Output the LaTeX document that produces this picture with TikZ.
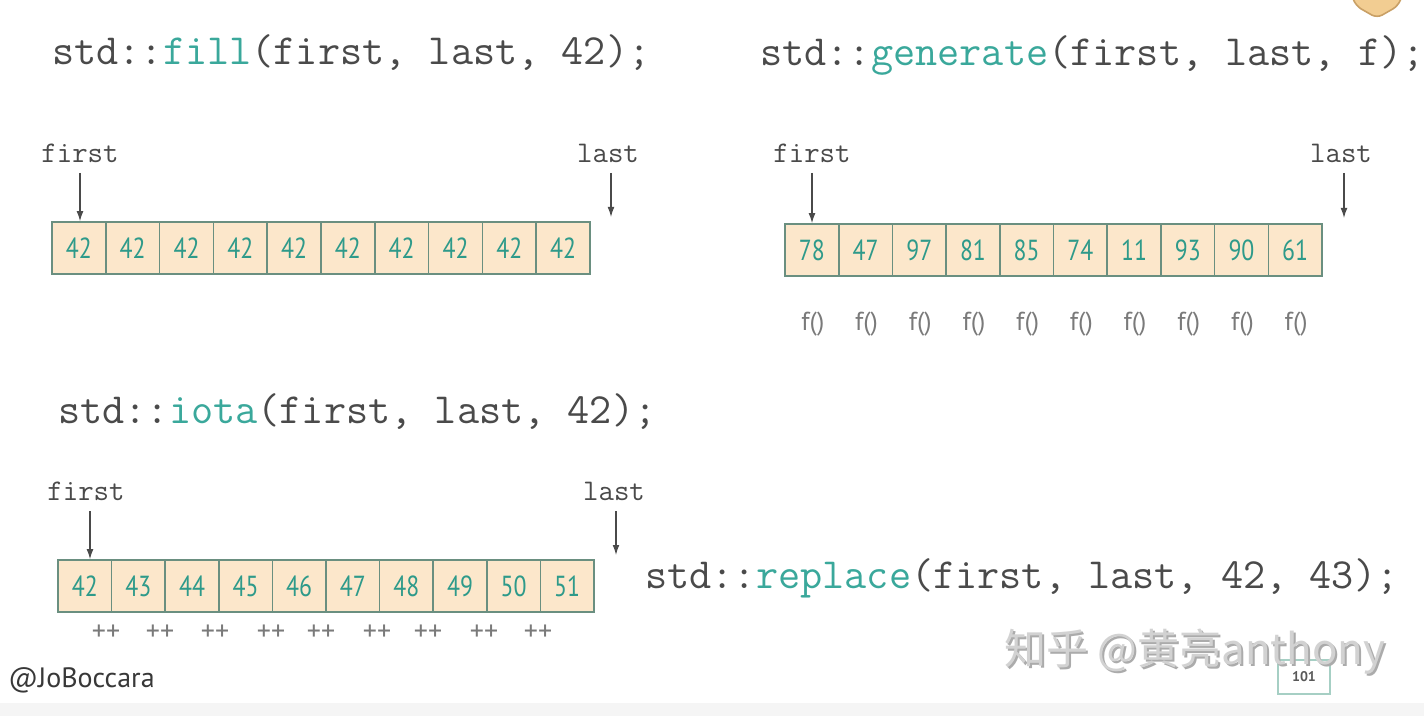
\documentclass[tikz,border=0pt]{standalone}
\usepackage{fontspec}
\setmainfont{PT Sans}
\newfontfamily\numfont[FakeStretch=0.82]{PT Sans}
\newfontfamily\cjkfont{Noto Sans CJK SC}
\usetikzlibrary{arrows.meta}

\definecolor{codegray}{HTML}{4A4A4A}
\definecolor{fnteal}{HTML}{3AA89B}
\definecolor{numteal}{HTML}{2E9A8A}
\definecolor{cellfill}{HTML}{FCE7CB}
\definecolor{cellline}{HTML}{6A8F80}
\definecolor{ptrgray}{HTML}{4A4A4A}
\definecolor{softgray}{HTML}{7A7A7A}
\definecolor{markgray}{HTML}{D2D2D2}
\definecolor{markshadow}{HTML}{ABABAB}
\definecolor{shieldfill}{HTML}{F2CD92}
\definecolor{shieldline}{HTML}{C9A066}
\definecolor{pageline}{HTML}{A6CFC4}

\tikzset{
  cell/.style={draw=cellline, fill=cellfill, line width=0.8pt,
    minimum width=26.85pt, minimum height=26pt, inner sep=0pt,
    text=numteal, font=\numfont\fontsize{14.5}{14.5}\selectfont},
  code/.style={anchor=base west, inner sep=0pt, text=codegray,
    font=\ttfamily\fontsize{21.5}{22}\selectfont},
  ptrlabel/.style={anchor=base, inner sep=0pt, text=ptrgray,
    font=\ttfamily\fontsize{15}{15}\selectfont},
  ptr/.style={draw=ptrgray, line width=0.6pt,
    -{Latex[length=5pt,width=3.4pt]}},
  fcall/.style={anchor=base, inner sep=0pt, text=softgray,
    font=\fontsize{13}{13}\selectfont},
  incr/.style={anchor=base, inner sep=0pt, text=softgray,
    font=\fontsize{14}{14}\selectfont},
  watermark/.style={anchor=base west, inner sep=0pt,
    font=\cjkfont\fontsize{21}{21}\selectfont},
}

\begin{document}
\begin{tikzpicture}[x=0.5pt,y=-0.5pt]
\useasboundingbox (0,0) rectangle (1424,716);
\fill[white] (0,0) rectangle (1424,716);
\fill[black!4] (0,703) rectangle (1424,716);

% badge peeking in at the top right
\draw[fill=shieldfill, draw=shieldline, line width=0.8pt, rounded corners=3pt]
  (1352,-4) -- (1356,6) -- (1377,18) -- (1398,6) -- (1402,-4);

% ---------- std::fill ----------
\node[code] (fillcode) at (52,65)
  {std::\textcolor{fnteal}{fill}(first, last, 42);};
\foreach \v [count=\i] in {42,42,42,42,42,42,42,42,42,42}
  \node[cell] (fill\i) at ({52+53.8*(\i-0.5)},248) {\v};
\node[ptrlabel] (fillfirst) at (80,163) {first};
\node[ptrlabel] (filllast) at (608,163) {last};
\coordinate (fillend) at (611,217);
\draw[ptr] ([yshift=-5pt]fillfirst.base) -- (fillfirst.base |- fill1.north);
\draw[ptr] ([yshift=-5pt]filllast.base -| fillend) -- (fillend);

% ---------- std::generate ----------
\node[code] (gencode) at (760,66)
  {std::\textcolor{fnteal}{generate}(first, last, f);};
\foreach \v [count=\i] in {78,47,97,81,85,74,11,93,90,61}
  \node[cell] (gen\i) at ({785+53.7*(\i-0.5)},250) {\v};
\foreach \i in {1,...,10}
  \node[fcall] (call\i) at ({785+53.7*(\i-0.5)+1},331) {f()};
\node[ptrlabel] (genfirst) at (812,163) {first};
\node[ptrlabel] (genlast) at (1341,163) {last};
\coordinate (genend) at (1344,218);
\draw[ptr] ([yshift=-5pt]genfirst.base) -- (genfirst.base |- gen1.north);
\draw[ptr] ([yshift=-5pt]genlast.base -| genend) -- (genend);

% ---------- std::iota ----------
\node[code] (iotacode) at (58,423)
  {std::\textcolor{fnteal}{iota}(first, last, 42);};
\foreach \v [count=\i] in {42,43,44,45,46,47,48,49,50,51}
  \node[cell] (iota\i) at ({58+53.6*(\i-0.5)},586) {\v};
\foreach \x [count=\i] in {106,160,215,271,321,377,428,484,538}
  \node[incr] (inc\i) at (\x,640) {++};
\node[ptrlabel] (iotafirst) at (86,501) {first};
\node[ptrlabel] (iotalast) at (614,501) {last};
\coordinate (iotaend) at (616,555);
\draw[ptr] ([yshift=-5pt]iotafirst.base -| 90,0) -- (90,0 |- iota1.north);
\draw[ptr] ([yshift=-5pt]iotalast.base -| iotaend) -- (iotaend);

% ---------- std::replace ----------
\node[code] (repcode) at (645,588)
  {std::\textcolor{fnteal}{replace}(first, last, 42, 43);};

% ---------- footer ----------
\node[anchor=base west, inner sep=0pt, text=black!78,
  font=\fontsize{14}{14}\selectfont] (author) at (8,687) {@JoBoccara};
\node[draw=pageline, line width=0.6pt, minimum width=26pt, minimum height=17pt,
  inner sep=0pt, text=black!65, font=\fontsize{7}{7}\selectfont\bfseries]
  (page) at (1304,677) {101};
\node[watermark, text=markshadow] (markshade) at (1006,666)
  {知乎 @黄亮anthony};
\node[watermark, text=markgray] (mark) at (1004,664)
  {知乎 @黄亮anthony};
\end{tikzpicture}
\end{document}
